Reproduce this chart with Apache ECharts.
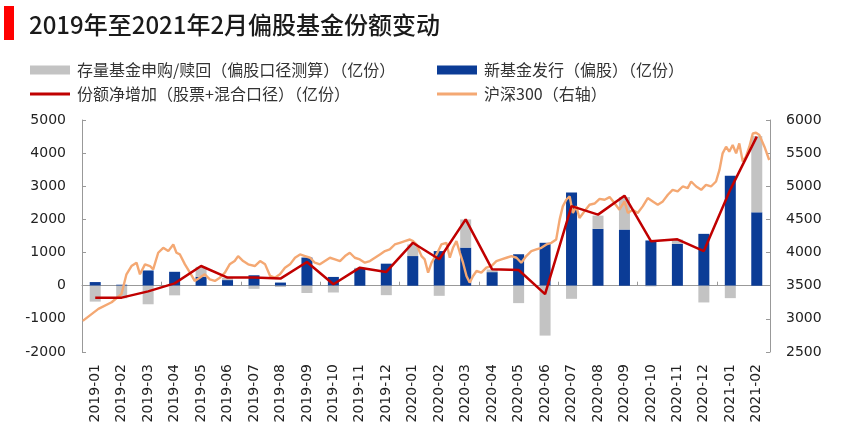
<!DOCTYPE html>
<html>
<head>
<meta charset="utf-8">
<script src="https://cdn.jsdelivr.net/npm/echarts@6/dist/echarts.min.js"></script>
<style>
html,body{margin:0;padding:0;background:#fff;}
#chart{width:842px;height:439px;}
</style>
</head>
<body>
<div id="chart"></div>
<script>
var categories = ['2019-01','2019-02','2019-03','2019-04','2019-05','2019-06','2019-07','2019-08','2019-09','2019-10','2019-11','2019-12',
  '2020-01','2020-02','2020-03','2020-04','2020-05','2020-06','2020-07','2020-08','2020-09','2020-10','2020-11','2020-12',
  '2021-01','2021-02'];
// 新基金发行（偏股）（亿份）
var newFund = [110, 30, 460, 420, 270, 170, 315, 95, 850, 265, 520, 665, 895, 1045, 1150, 410, 950, 1295, 2815, 1715, 1695, 1365, 1265, 1565, 3315, 2215];
// 存量基金申购/赎回（偏股口径测算）（亿份）
var existingFund = [-480, -380, -560, -290, 300, 70, -95, -40, -220, -205, 20, -285, 350, -305, 850, 80, -525, -1505, -395, 400, 980, -20, 130, -505, -375, 2300];
// 份额净增加（股票+混合口径）（亿份）
var netIncrease = [-360, -360, -170, 70, 595, 245, 245, 215, 715, 45, 545, 415, 1295, 800, 2000, 495, 475, -255, 2400, 2145, 2715, 1345, 1400, 1045, 2900, 4500];
// 沪深300: months elapsed since 2019-01-01, and index level
var hsMonth = [0.03,0.62,1.12,1.49,1.68,1.87,2.06,2.19,2.38,2.57,2.69,2.88,3.07,3.26,3.45,3.57,3.70,3.89,4.08,4.26,4.45,4.64,4.83,5.02,5.21,5.40,5.58,5.77,5.90,6.09,6.28,6.53,
  6.73,6.92,7.11,7.29,7.48,7.67,7.86,8.05,8.24,8.43,8.62,8.80,8.99,9.18,9.37,9.56,9.75,9.94,10.12,10.31,10.50,10.69,10.88,11.07,11.26,11.45,11.63,11.82,12.01,12.20,12.39,12.51,12.64,12.83,
  12.95,13.08,13.21,13.40,13.58,13.77,13.90,14.02,14.15,14.28,14.40,14.53,14.65,14.78,14.91,15.09,15.28,15.47,15.66,15.85,16.04,16.23,16.42,16.60,16.79,16.98,17.17,17.36,17.55,17.74,17.92,
  18.05,18.17,18.30,18.43,18.55,18.68,18.80,18.99,19.18,19.37,19.56,19.75,19.94,20.12,20.31,20.50,20.63,20.81,21.00,21.19,21.38,21.57,21.76,21.95,22.14,22.32,22.51,22.70,22.89,23.02,23.21,
  23.40,23.58,23.77,23.96,24.09,24.21,24.34,24.46,24.59,24.72,24.84,24.97,25.09,25.22,25.35,25.47,25.60,25.79,25.97];
var hsValue = [2970,3150,3250,3372,3672,3797,3847,3672,3822,3797,3747,3997,4072,4022,4122,3997,3972,3822,3697,3572,3622,3672,3597,3572,3622,3697,3822,3872,3947,3872,3822,3797,
  3872,3822,3647,3622,3672,3772,3822,3922,3972,3947,3922,3847,3822,3872,3922,3897,3872,3947,3997,3922,3897,3847,3872,3922,3972,4022,4047,4122,4147,4172,4197,4172,4122,3947,
  3897,3697,3847,3972,4122,4147,3922,4072,4172,3997,3847,3647,3547,3647,3722,3697,3772,3797,3872,3897,3922,3947,3922,3847,3947,4022,4047,4072,4122,4147,4197,
  4497,4697,4797,4847,4597,4697,4522,4622,4722,4740,4810,4797,4837,4747,4647,4772,4597,4647,4597,4697,4822,4772,4722,4772,4872,4947,4922,4997,4972,5072,4997,
  4947,5022,4997,5072,5247,5497,5597,5522,5622,5497,5647,5372,5447,5597,5797,5807,5772,5597,5397];

var nameExisting = '存量基金申购/赎回（偏股口径测算）（亿份）';
var nameNew = '新基金发行（偏股）（亿份）';
var nameNet = '份额净增加（股票+混合口径）（亿份）';
var nameHs = '沪深300（右轴）';

var hsData = hsMonth.map(function (m, i) { return [m, hsValue[i]]; });

var axisFont = 'DejaVu Sans';
var cjkFont = '"Noto Sans CJK SC", "Noto Sans", sans-serif';

function mkLegend(name, left, top, h) {
  return {
    data: [name], left: left, top: top, itemWidth: 40, itemHeight: h, itemGap: 0,
    icon: 'rect', padding: 0,
    textStyle: { fontFamily: cjkFont, fontSize: 16, color: '#333', padding: [0, 0, 0, 2] },
    selectedMode: false
  };
}
function plain(v) { return String(v); }

var chart = echarts.init(document.getElementById('chart'), null, { renderer: 'canvas' });
chart.setOption({
  animation: false,
  backgroundColor: '#fff',
  title: {
    text: '2019年至2021年2月偏股基金份额变动',
    left: 24, top: 8,
    textStyle: { fontFamily: cjkFont, fontSize: 24, fontWeight: 500, color: '#1a1a1a' }
  },
  graphic: [{ type: 'rect', shape: { x: 4, y: 6, width: 10, height: 34 }, style: { fill: '#ff0000' } }],
  legend: [
    mkLegend(nameExisting, 30, 62, 9),
    mkLegend(nameNew, 437, 62, 9),
    mkLegend(nameNet, 30, 86, 3),
    mkLegend(nameHs, 437, 86, 3)
  ],
  grid: { left: 82, right: 72, top: 120, bottom: 87 },
  xAxis: [
    {
      type: 'category', data: categories, position: 'bottom',
      axisLine: { show: false, onZero: false }, axisTick: { show: false },
      axisLabel: { rotate: 90, fontFamily: axisFont, fontSize: 14, color: '#222', margin: 12, interval: 0 }
    },
    {
      type: 'category', data: categories, position: 'top',
      axisLine: { show: true, onZero: true, onZeroAxisIndex: 0, lineStyle: { color: '#999', width: 1 } },
      axisTick: { show: true, length: 4, lineStyle: { color: '#999' } },
      axisLabel: { show: false }
    },
    { type: 'value', min: 0, max: 26, show: false }
  ],
  yAxis: [
    {
      type: 'value', min: -2000, max: 5000, interval: 1000, position: 'left',
      axisLine: { show: true, lineStyle: { color: '#999' } },
      axisTick: { show: true, inside: true, length: 4, lineStyle: { color: '#999' } },
      splitLine: { show: false },
      axisLabel: { fontFamily: axisFont, fontSize: 14, color: '#222', margin: 16, formatter: plain }
    },
    {
      type: 'value', min: 2500, max: 6000, interval: 500, position: 'right',
      axisLine: { show: true, lineStyle: { color: '#999' } },
      axisTick: { show: true, inside: true, length: 4, lineStyle: { color: '#999' } },
      splitLine: { show: false },
      axisLabel: { fontFamily: axisFont, fontSize: 14, color: '#222', margin: 16, formatter: plain }
    }
  ],
  series: [
    { name: nameNew, type: 'bar', stack: 'a', data: newFund, barWidth: 11, itemStyle: { color: '#0b3c96' } },
    { name: nameExisting, type: 'bar', stack: 'a', data: existingFund, barWidth: 11, itemStyle: { color: '#c3c3c3' } },
    { name: nameHs, type: 'line', xAxisIndex: 2, yAxisIndex: 1, data: hsData, showSymbol: false, symbol: 'none',
      lineStyle: { color: '#f4a873', width: 2.4 }, itemStyle: { color: '#f4a873' } },
    { name: nameNet, type: 'line', data: netIncrease, showSymbol: false, symbol: 'none',
      lineStyle: { color: '#c00000', width: 2.5 }, itemStyle: { color: '#c00000' } }
  ]
});
</script>
</body>
</html>
